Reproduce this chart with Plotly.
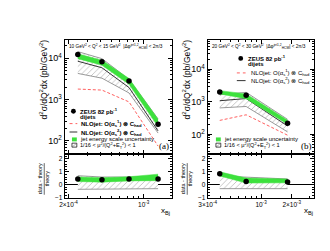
import plotly.graph_objects as go

# ---------------- data: panel (a) 10 < Q2 < 15 GeV2 ----------------
x_a = [2.44e-4, 4.09e-4, 7.3e-4, 1.36e-3]
data_a = [12300, 8300, 2840, 253]
nlo2_a = [8500, 5900, 1960, 175]
nlo1_a = [1800, 1700, 880, 75]
scale_up_a = [14500, 9800, 3100, 340]
scale_dn_a = [4300, 3300, 1450, 155]
jes_up_a = [12800, 9000, 3250, 335]
jes_dn_a = [9800, 6800, 2350, 222]
ratio_a = [0.45, 0.38, 0.45, 0.45]
ratio_err_a = [0.08, 0.07, 0.08, 0.12]
rscale_up_a = [0.7, 0.6, 0.6, 0.65]
rscale_dn_a = [-0.35, -0.35, -0.33, -0.3]
rjes_up_a = [0.6, 0.55, 0.62, 0.82]
rjes_dn_a = [0.25, 0.2, 0.3, 0.32]

# ---------------- data: panel (b) 20 < Q2 < 30 GeV2 ----------------
x_b = [3.94e-4, 7.15e-4, 1.82e-3]
data_b = [2000, 1580, 222]
nlo2_b = [1080, 1260, 182]
nlo1_b = [270, 400, 95]
scale_up_b = [1650, 1950, 290]
scale_dn_b = [650, 720, 120]
jes_up_b = [2200, 1750, 275]
jes_dn_b = [1750, 1250, 205]
ratio_b = [0.85, 0.25, 0.22]
ratio_err_b = [0.15, 0.07, 0.08]
rscale_up_b = [0.68, 0.6, 0.45]
rscale_dn_b = [-0.3, -0.3, -0.3]
rjes_up_b = [1.0, 0.52, 0.45]
rjes_dn_b = [0.68, 0.13, 0.15]

# tick labels
xt_a_vals = [2e-4, 1e-3]
xt_a_text = ["2×10<sup>-4</sup>", "10<sup>-3</sup>"]
xt_b_vals = [3e-4, 1e-3, 2e-3]
xt_b_text = ["3×10<sup>-4</sup>", "10<sup>-3</sup>", "2×10<sup>-3</sup>"]
yt_vals = [1e2, 1e3, 1e4]
yt_text = ["10<sup>2</sup>", "10<sup>3</sup>", "10<sup>4</sup>"]

W, H = 330, 251
def px(x): return x / W
def py(y): return 1 - y / H

GREEN = '#3de13d'
RED = '#ff6060'
DARK = '#333333'
FONT = 'Liberation Sans'

fig = go.Figure()

def hatch_band(x, lo, hi, xa, ya):
    fig.add_trace(go.Scatter(x=x, y=lo, xaxis=xa, yaxis=ya, mode='lines',
                             line=dict(color='#808080', width=0.8),
                             showlegend=False, hoverinfo='skip'))
    fig.add_trace(go.Scatter(x=x, y=hi, xaxis=xa, yaxis=ya, mode='lines',
                             line=dict(color='#808080', width=0.8), fill='tonexty',
                             fillpattern=dict(shape='/', fgcolor='#707070', bgcolor='white',
                                              size=4, solidity=0.2),
                             showlegend=False, hoverinfo='skip'))

def green_band(x, lo, hi, xa, ya):
    fig.add_trace(go.Scatter(x=x, y=lo, xaxis=xa, yaxis=ya, mode='lines',
                             line=dict(color=GREEN, width=0.5), showlegend=False, hoverinfo='skip'))
    fig.add_trace(go.Scatter(x=x, y=hi, xaxis=xa, yaxis=ya, mode='lines',
                             line=dict(color=GREEN, width=0.5), fill='tonexty', fillcolor=GREEN,
                             showlegend=False, hoverinfo='skip'))

def line(x, y, xa, ya, color, dash):
    fig.add_trace(go.Scatter(x=x, y=y, xaxis=xa, yaxis=ya, mode='lines',
                             line=dict(color=color, width=1, dash=dash),
                             showlegend=False, hoverinfo='skip'))

def points(x, y, xa, ya, err=None):
    fig.add_trace(go.Scatter(x=x, y=y, xaxis=xa, yaxis=ya, mode='markers',
                             marker=dict(color='black', size=5.5),
                             error_y=dict(type='data', array=err, visible=err is not None,
                                          color='black', thickness=1, width=0),
                             showlegend=False, hoverinfo='skip'))

# panel a upper
hatch_band(x_a, scale_dn_a, scale_up_a, 'x', 'y')
line(x_a, nlo1_a, 'x', 'y', RED, '3px,2px')
line(x_a, nlo2_a, 'x', 'y', DARK, 'solid')
green_band(x_a, jes_dn_a, jes_up_a, 'x', 'y')
points(x_a, data_a, 'x', 'y')
# panel a lower
hatch_band(x_a, rscale_dn_a, rscale_up_a, 'x2', 'y2')
green_band(x_a, rjes_dn_a, rjes_up_a, 'x2', 'y2')
points(x_a, ratio_a, 'x2', 'y2', ratio_err_a)
# panel b upper
hatch_band(x_b, scale_dn_b, scale_up_b, 'x3', 'y3')
line(x_b, nlo1_b, 'x3', 'y3', RED, '3px,2px')
line(x_b, nlo2_b, 'x3', 'y3', DARK, 'solid')
green_band(x_b, jes_dn_b, jes_up_b, 'x3', 'y3')
points(x_b, data_b, 'x3', 'y3')
# panel b lower
hatch_band(x_b, rscale_dn_b, rscale_up_b, 'x4', 'y4')
green_band(x_b, rjes_dn_b, rjes_up_b, 'x4', 'y4')
points(x_b, ratio_b, 'x4', 'y4', ratio_err_b)

common = dict(showline=True, linecolor='black', linewidth=1, mirror='allticks',
              ticks='inside', ticklen=4, tickcolor='black', tickwidth=1,
              showgrid=False, zeroline=False)
ylog_minor = [k * 10 ** n for n in range(1, 5) for k in range(2, 10)]
xa_minor = [k * 1e-4 for k in range(3, 10)]
xb_minor = [k * 1e-4 for k in range(4, 10)] + [3e-3]

dom_a = [px(49), px(159)]
dom_b = [px(196), px(305)]
dom_up = [py(147.5), py(32.5)]
dom_lo = [py(192), py(147.5)]

fig.update_layout(
    width=W, height=H, margin=dict(l=0, r=0, t=0, b=0),
    paper_bgcolor='white', plot_bgcolor='white',
    font=dict(family=FONT, color='black'),
    xaxis=dict(common, domain=dom_a, anchor='y', type='log', range=[-3.735, -2.74],
               tickvals=xt_a_vals, showticklabels=False,
               minor=dict(tickvals=xa_minor, ticks='inside', ticklen=2, tickcolor='black')),
    xaxis2=dict(common, domain=dom_a, anchor='y2', type='log', range=[-3.735, -2.74],
                tickvals=xt_a_vals, ticktext=xt_a_text, tickfont=dict(size=6.5),
                minor=dict(tickvals=xa_minor, ticks='inside', ticklen=2, tickcolor='black')),
    yaxis=dict(common, domain=dom_up, anchor='x', type='log', range=[1.69, 4.44],
               tickvals=yt_vals, ticktext=yt_text, tickfont=dict(size=9),
               minor=dict(tickvals=ylog_minor, ticks='inside', ticklen=2, tickcolor='black')),
    yaxis2=dict(common, domain=dom_lo, anchor='x2', range=[-1, 2.4],
                tickvals=[-1, 0, 1, 2], tickfont=dict(size=6.5),
                zeroline=True, zerolinecolor='black', zerolinewidth=1,
                minor=dict(dtick=0.2, ticks='inside', ticklen=2, tickcolor='black')),
    xaxis3=dict(common, domain=dom_b, anchor='y3', type='log', range=[-3.523, -2.484],
                tickvals=xt_b_vals, showticklabels=False,
                minor=dict(tickvals=xb_minor, ticks='inside', ticklen=2, tickcolor='black')),
    xaxis4=dict(common, domain=dom_b, anchor='y4', type='log', range=[-3.523, -2.484],
                tickvals=xt_b_vals, ticktext=xt_b_text, tickfont=dict(size=6.5),
                minor=dict(tickvals=xb_minor, ticks='inside', ticklen=2, tickcolor='black')),
    yaxis3=dict(common, domain=dom_up, anchor='x3', type='log', range=[1.41, 4.89],
                tickvals=yt_vals, ticktext=yt_text, tickfont=dict(size=9),
                minor=dict(tickvals=ylog_minor, ticks='inside', ticklen=2, tickcolor='black')),
    yaxis4=dict(common, domain=dom_lo, anchor='x4', range=[-1, 2.4],
                tickvals=[-1, 0, 1, 2], tickfont=dict(size=6.5),
                zeroline=True, zerolinecolor='black', zerolinewidth=1,
                minor=dict(dtick=0.2, ticks='inside', ticklen=2, tickcolor='black')),
)

ann = []
shapes = []
def text(x, y, t, size=6, anchor='left', angle=0, family=FONT, bold=False):
    if bold:
        t = '<b>' + t + '</b>'
    ann.append(dict(x=px(x), y=py(y), xref='paper', yref='paper', text=t, showarrow=False,
                    xanchor=anchor, yanchor='middle', textangle=angle,
                    font=dict(size=size, family=family, color='black')))

ytitle = "d<sup>2</sup>σ/dQ<sup>2</sup>dx (pb/GeV<sup>2</sup>)"
rtitle = "data - theory<br>theory"
nlo1_txt = "NLOjet: O(α<sub>s</sub><sup>1</sup>) ⊗ C<sub>had</sub>"
nlo2_txt = "NLOjet: O(α<sub>s</sub><sup>2</sup>) ⊗ C<sub>had</sub>"
jes_txt = "jet energy scale uncertainty"
scale_txt = "1/16 &lt; μ<sup>2</sup>/(Q<sup>2</sup>+E<sub>T</sub><sup>2</sup>) &lt; 1"
dphi = "|Δφ<sup>jet1,2</sup><sub>HCM</sub>| &lt; 2π/3"

for off, lab, q in [(0, '(a)', '10'), (147, '(b)', '20')]:
    text(27 + off, 72, ytitle, size=8.5, anchor='center', angle=-90)
    text(28 + off, 173, rtitle, size=5.5, anchor='center', angle=-90)
    shapes.append(dict(type='line', xref='paper', yref='paper',
                       x0=px(28 + off), x1=px(28 + off), y0=py(189), y1=py(157),
                       line=dict(color='black', width=0.6)))
    qhi = '15' if q == '10' else '30'
    text(51 + off, 39, f"{q} GeV<sup>2</sup> &lt; Q<sup>2</sup> &lt; {qhi} GeV<sup>2</sup>  " + dphi, size=4.7)
    text(151 + off, 140, lab, size=9, anchor='center', family='Liberation Serif')
    text(153 + off, 205, "x<sub>Bj</sub>", size=8, anchor='center')

def leg_dot(cx, cy):
    shapes.append(dict(type='circle', xref='paper', yref='paper', x0=px(cx - 2.5), x1=px(cx + 2.5),
                       y0=py(cy + 2.5), y1=py(cy - 2.5), fillcolor='black', line=dict(width=0)))
def leg_line(x0, x1, cy, color, dash):
    shapes.append(dict(type='line', xref='paper', yref='paper', x0=px(x0), x1=px(x1),
                       y0=py(cy), y1=py(cy), line=dict(color=color, width=1, dash=dash)))
def leg_green(cx, cy):
    shapes.append(dict(type='rect', xref='paper', yref='paper', x0=px(cx - 2.5), x1=px(cx + 2.5),
                       y0=py(cy + 2), y1=py(cy - 2), fillcolor=GREEN, line=dict(width=0)))
def leg_hatch(cx, cy):
    shapes.append(dict(type='rect', xref='paper', yref='paper', x0=px(cx - 2.5), x1=px(cx + 2.5),
                       y0=py(cy + 2), y1=py(cy - 2), fillcolor='white', line=dict(color='black', width=0.7)))
    shapes.append(dict(type='line', xref='paper', yref='paper', x0=px(cx - 2.5), x1=px(cx + 2.5),
                       y0=py(cy + 2), y1=py(cy - 2), line=dict(color='#666', width=0.5)))

# legend panel (a)
leg_dot(58, 104.5); text(62.5, 104.5, "ZEUS 82 pb<sup>-1</sup>", size=6, bold=True)
text(62.5, 110.5, "dijets", size=6, bold=True)
leg_line(54, 62, 117, RED, 'dot'); text(63.5, 117, nlo1_txt, size=6, bold=True)
leg_line(54, 62, 125.5, DARK, 'solid'); text(63.5, 125.5, nlo2_txt, size=6, bold=True)
leg_green(59, 133); text(62.5, 133, jes_txt, size=6)
leg_hatch(59, 138.8); text(62.5, 138.8, scale_txt, size=5.6)

# legend panel (b)
leg_dot(230, 51); text(235, 51, "ZEUS 82 pb<sup>-1</sup>", size=6, bold=True)
text(235, 57, "dijets", size=6, bold=True)
leg_line(226, 235, 65.7, RED, 'dot'); text(238, 65.7, nlo1_txt, size=6)
leg_line(226, 235, 73.5, DARK, 'solid'); text(238, 73.5, nlo2_txt, size=6)
leg_green(207, 133); text(211, 133, jes_txt, size=6)
leg_hatch(207, 138.8); text(211, 138.8, scale_txt, size=5.6)

fig.update_layout(annotations=ann, shapes=shapes)
fig.write_html("out.html")
